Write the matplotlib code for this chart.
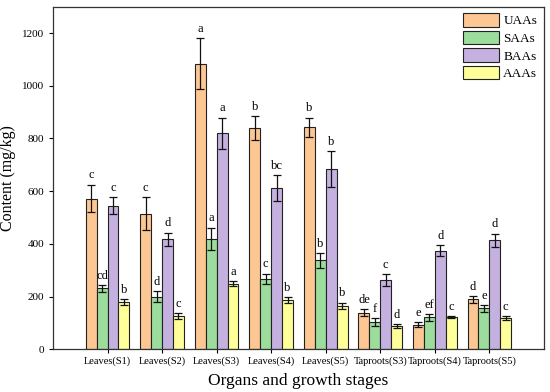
import matplotlib
matplotlib.use("Agg")
import matplotlib.pyplot as plt
import numpy as np

plt.rcParams['font.family'] = ['Liberation Serif', 'DejaVu Serif']

categories = ["Leaves(S1)", "Leaves(S2)", "Leaves(S3)", "Leaves(S4)", "Leaves(S5)",
              "Taproots(S3)", "Taproots(S4)", "Taproots(S5)"]
series_names = ["UAAs", "SAAs", "BAAs", "AAAs"]

uaas = [572, 515, 1084, 839, 842, 139, 93, 190]
uaas_err = [53, 63, 96, 45, 37, 14, 10, 13]
saas = [231, 199, 420, 267, 337, 102, 121, 155]
saas_err = [14, 21, 42, 20, 29, 15, 12, 14]
baas = [545, 417, 819, 612, 683, 263, 374, 413]
baas_err = [33, 26, 60, 50, 68, 22, 21, 26]
aaas = [178, 126, 249, 186, 165, 89, 122, 119]
aaas_err = [11, 10, 10, 12, 12, 8, 5, 7]

uaas_letters = ["c", "c", "a", "b", "b", "de", "e", "d"]
saas_letters = ["cd", "d", "a", "c", "b", "f", "ef", "e"]
baas_letters = ["c", "d", "a", "bc", "b", "c", "d", "d"]
aaas_letters = ["b", "c", "a", "b", "b", "d", "c", "c"]

values = [uaas, saas, baas, aaas]
errors = [uaas_err, saas_err, baas_err, aaas_err]
letters = [uaas_letters, saas_letters, baas_letters, aaas_letters]
colors = ["#FDC793", "#9CDC9C", "#C4B1DF", "#FFFF99"]

fig = plt.figure(figsize=(5.5, 3.92), dpi=100)
ax = fig.add_axes([0.0964, 0.109, 0.8926, 0.874])

x = np.arange(1, len(categories) + 1)
width = 0.2
offsets = [-0.3, -0.1, 0.1, 0.3]

for vals, errs, labs, col, off, name in zip(values, errors, letters, colors, offsets, series_names):
    ax.bar(x + off, vals, width, color=col, edgecolor="#222222", linewidth=0.8, label=name, zorder=2)
    ax.errorbar(x + off, vals, yerr=errs, fmt="none", ecolor="#111111", elinewidth=0.9,
                capsize=3.2, capthick=0.9, zorder=3)
    for xi, v, e, l in zip(x + off, vals, errs, labs):
        ax.text(xi, v + e + 12, l, ha="center", va="bottom", fontsize=9)

ax.set_xlim(0, 9)
ax.set_ylim(0, 1300)
ax.set_yticks([0, 200, 400, 600, 800, 1000, 1200])
ax.set_xticks(x)
ax.set_xticklabels(categories, fontsize=7.5)
ax.tick_params(axis="y", labelsize=8, direction="out", length=3, width=0.8)
ax.tick_params(axis="x", direction="out", length=3, width=0.8, pad=2)
for s in ax.spines.values():
    s.set_linewidth(0.9)
    s.set_color("#333333")

ax.set_ylabel("Content (mg/kg)", fontsize=11.5, labelpad=4)
ax.set_xlabel("Organs and growth stages", fontsize=12.5, labelpad=5)

ax.legend(loc="upper right", frameon=False, fontsize=9.5, handlelength=2.7, handleheight=1.2,
          labelspacing=0.25, handletextpad=0.35, borderaxespad=0.3, borderpad=0.2)

fig.savefig("out.png", dpi=100)
